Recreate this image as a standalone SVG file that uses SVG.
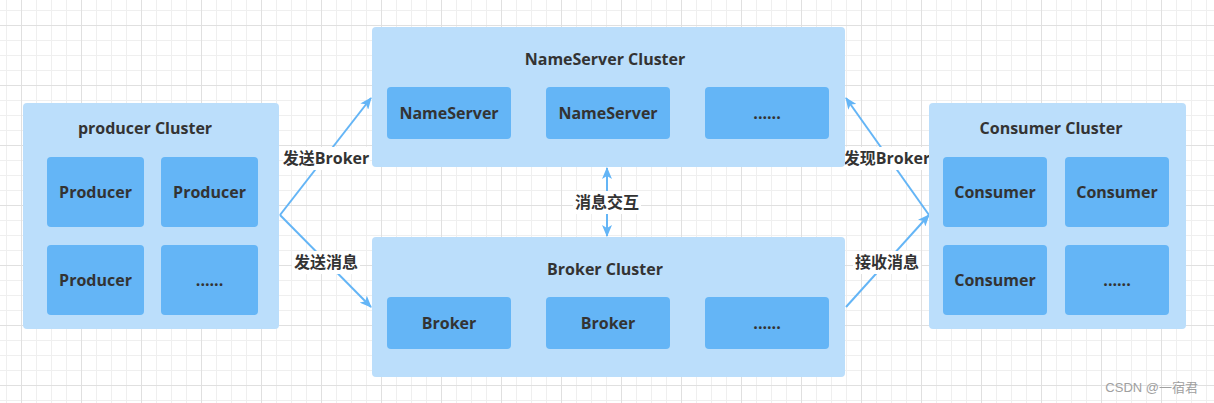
<svg xmlns="http://www.w3.org/2000/svg" width="1214" height="403" viewBox="0 0 1214 403">
<style>
.t{font-family:"Open Sans","Noto Sans CJK SC",sans-serif;font-weight:bold;font-size:16px;fill:#333;text-anchor:middle}
.cl{fill:#bbdefb}
.nd{fill:#64b5f6}
.cn{stroke:#64b5f6;stroke-width:2;fill:none}
.lb{fill:#fff}
.wm{font-family:"Liberation Sans","Noto Sans CJK SC",sans-serif;font-size:13px;fill:#a0a0a0;text-anchor:end}
</style>
<defs>
<pattern id="gmin" patternUnits="userSpaceOnUse" x="6" y="10" width="15" height="15">
<path d="M0.5 0V15M0 0.5H15" stroke="#efefef" stroke-width="1"/>
</pattern>
<pattern id="gmaj" patternUnits="userSpaceOnUse" x="21" y="25" width="60" height="60">
<path d="M0.5 0V60M0 0.5H60" stroke="#e0e0e0" stroke-width="1"/>
</pattern>
<marker id="ah" markerUnits="userSpaceOnUse" markerWidth="12" markerHeight="10" refX="11" refY="5" orient="auto-start-reverse">
<path d="M0,0 L12,5 L0,10 L3,5 z" fill="#64b5f6"/>
</marker>
</defs>
<rect width="1214" height="403" fill="#fff"/>
<rect width="1214" height="403" fill="url(#gmin)"/>
<rect width="1214" height="403" fill="url(#gmaj)"/>

<g id="connectors">
<line class="cn" x1="280" y1="215" x2="371" y2="98" marker-end="url(#ah)"/>
<line class="cn" x1="280" y1="215" x2="371" y2="307" marker-end="url(#ah)"/>
<line class="cn" x1="929" y1="215" x2="846" y2="98" marker-end="url(#ah)"/>
<line class="cn" x1="846" y1="307" x2="929" y2="215" marker-end="url(#ah)"/>
<line class="cn" x1="607" y1="168" x2="607" y2="236" marker-start="url(#ah)" marker-end="url(#ah)"/>
<rect class="lb" x="283" y="147" width="87" height="23"/>
<text class="t" x="326" y="164">发送Broker</text>
<rect class="lb" x="292" y="251" width="68" height="23"/>
<text class="t" x="326" y="268">发送消息</text>
<rect class="lb" x="844" y="147" width="87" height="23"/>
<text class="t" x="887" y="164">发现Broker</text>
<rect class="lb" x="853" y="251" width="68" height="23"/>
<text class="t" x="887" y="268">接收消息</text>
<rect class="lb" x="573" y="191" width="68" height="23"/>
<text class="t" x="607" y="208">消息交互</text>
</g>

<g id="producer-cluster">
<rect class="cl" x="23" y="103" width="256" height="226" rx="4"/>
<text class="t" x="145" y="134">producer Cluster</text>
</g>
<g id="producer-1"><rect class="nd" x="47" y="157" width="97" height="70" rx="4"/><text class="t" x="95.5" y="197.5">Producer</text></g>
<g id="producer-2"><rect class="nd" x="161" y="157" width="97" height="70" rx="4"/><text class="t" x="209.5" y="197.5">Producer</text></g>
<g id="producer-3"><rect class="nd" x="47" y="245" width="97" height="70" rx="4"/><text class="t" x="95.5" y="285.5">Producer</text></g>
<g id="producer-4"><rect class="nd" x="161" y="245" width="97" height="70" rx="4"/><text class="t" x="209.5" y="285.5">......</text></g>

<g id="nameserver-cluster">
<rect class="cl" x="372" y="27" width="473" height="140" rx="4"/>
<text class="t" x="605" y="65">NameServer Cluster</text>
</g>
<g id="nameserver-1"><rect class="nd" x="387" y="87" width="124" height="52" rx="4"/><text class="t" x="449" y="118.5">NameServer</text></g>
<g id="nameserver-2"><rect class="nd" x="546" y="87" width="124" height="52" rx="4"/><text class="t" x="608" y="118.5">NameServer</text></g>
<g id="nameserver-3"><rect class="nd" x="705" y="87" width="124" height="52" rx="4"/><text class="t" x="767" y="118.5">......</text></g>

<g id="broker-cluster">
<rect class="cl" x="372" y="237" width="473" height="140" rx="4"/>
<text class="t" x="605" y="275">Broker Cluster</text>
</g>
<g id="broker-1"><rect class="nd" x="387" y="297" width="124" height="52" rx="4"/><text class="t" x="449" y="328.5">Broker</text></g>
<g id="broker-2"><rect class="nd" x="546" y="297" width="124" height="52" rx="4"/><text class="t" x="608" y="328.5">Broker</text></g>
<g id="broker-3"><rect class="nd" x="705" y="297" width="124" height="52" rx="4"/><text class="t" x="767" y="328.5">......</text></g>

<g id="consumer-cluster">
<rect class="cl" x="929" y="103" width="257" height="226" rx="4"/>
<text class="t" x="1051" y="134">Consumer Cluster</text>
</g>
<g id="consumer-1"><rect class="nd" x="943" y="157" width="104" height="70" rx="4"/><text class="t" x="995" y="197.5">Consumer</text></g>
<g id="consumer-2"><rect class="nd" x="1065" y="157" width="104" height="70" rx="4"/><text class="t" x="1117" y="197.5">Consumer</text></g>
<g id="consumer-3"><rect class="nd" x="943" y="245" width="104" height="70" rx="4"/><text class="t" x="995" y="285.5">Consumer</text></g>
<g id="consumer-4"><rect class="nd" x="1065" y="245" width="104" height="70" rx="4"/><text class="t" x="1117" y="285.5">......</text></g>

<text class="wm" x="1198" y="392">CSDN @一宿君</text>
</svg>
